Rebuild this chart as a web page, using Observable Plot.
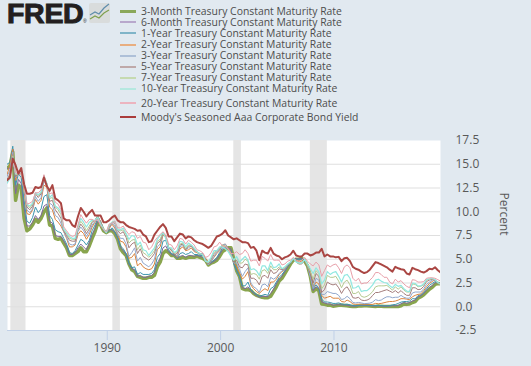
<!DOCTYPE html>
<html><head><meta charset="utf-8">
<script src="https://cdn.jsdelivr.net/npm/d3@7"></script>
<script src="https://cdn.jsdelivr.net/npm/@observablehq/plot@0.6"></script>
<style>
html,body{margin:0;padding:0;background:#e1e9f0;width:531px;height:366px;overflow:hidden}
#head{position:relative;height:130px;width:531px;font-family:"Open Sans",sans-serif}
#logo{position:absolute;left:7px;top:0;font:900 28.5px/26px "Liberation Sans",sans-serif;color:#231f20;-webkit-text-stroke:1px #231f20;letter-spacing:-.3px}
#reg{position:absolute;left:83px;top:18px;font:5px/6px "Liberation Sans",sans-serif;color:#231f20}
#icon{position:absolute;left:89px;top:3px}
#legend{position:absolute;left:120px;top:5.7px}
.row{display:flex;align-items:center;height:11.1px;font-size:10.4px;line-height:11px;color:#4d4d4d;white-space:nowrap}
.row span{display:block;height:11px;line-height:11px;overflow:visible}
.row.tall{margin-top:3.1px}
.row i{display:block;width:16px;margin-right:5px;flex:none}
svg.plot{display:block}
</style></head><body>
<div id="head">
<div id="logo">FRED</div><div id="reg">®</div>
<svg id="icon" width="22" height="21"><rect width="21" height="20" rx="2" fill="#d9dcdc"/><polyline points="1,12 6,9 10,11 15,5 20,1" fill="none" stroke="#5f8dab" stroke-width="1.2"/><polyline points="1,16 6,13 10,15 15,10 20,7" fill="none" stroke="#7fa04e" stroke-width="1.2"/></svg>
<div id="legend"></div>
</div>
<div id="chart"></div>
<script>
const names=["3-Month Treasury Constant Maturity Rate","6-Month Treasury Constant Maturity Rate","1-Year Treasury Constant Maturity Rate","2-Year Treasury Constant Maturity Rate","3-Year Treasury Constant Maturity Rate","5-Year Treasury Constant Maturity Rate","7-Year Treasury Constant Maturity Rate","10-Year Treasury Constant Maturity Rate","20-Year Treasury Constant Maturity Rate","Moody's Seasoned Aaa Corporate Bond Yield"];
const colors=["#89A54E","#80699B","#3D96AE","#DB843D","#92A8CD","#A47D7C","#B5CA92","#91E8E1","#E8A0AA","#AA4643"];
const widths=[3.5,1,1,1,1,1,1,1.2,1,2];
const legendColors=["#8aa85a","#b8a8cc","#7fb4c8","#e8ae80","#aec0d8","#bfa9a9","#c6dab0","#b5e8e0","#ecb4bf","#aa3c3c"];
const yTicks=[-2.5,0,2.5,5,7.5,10,12.5,15,17.5];
const gridValues=[0,2.5,5,7.5,10,12.5,15];
const xTickYears=[1990,2000,2010];
const recessionStart=["1981-07-01","1990-07-01","2001-03-01","2007-12-01"];
const recessionEnd=["1982-11-01","1991-03-01","2001-11-01","2009-06-01"];
const m3=[14.6,14.8,16.3,11.2,
12.8,12.5,9.3,8.0, 8.2,8.6,9.2,8.9, 9.3,10.0,10.4,8.6, 8.5,7.2,7.1,7.2, 6.7,6.2,5.4,5.4, 5.6,5.8,6.2,5.8, 5.8,6.4,7.2,7.9, 8.8,8.6,8.0,7.8, 8.0,8.0,7.7,7.1,
6.1,5.7,5.4,4.5, 3.9,3.7,3.2,3.1, 3.0,3.0,3.1,3.1, 3.3,4.2,4.7,5.6, 5.9,5.7,5.4,5.4, 5.1,5.1,5.2,5.1, 5.2,5.2,5.2,5.3, 5.2,5.1,4.9,4.4, 4.6,4.7,4.9,5.3, 5.8,6.0,6.2,6.2,
5.0,3.8,3.2,1.9, 1.8,1.8,1.7,1.4, 1.2,1.1,1.0,0.95, 0.95,1.1,1.6,2.1, 2.7,3.0,3.5,4.0, 4.5,4.9,5.0,5.0, 5.1,4.8,4.3,3.2, 1.6,1.9,1.7,0.3, 0.25,0.17,0.17,0.06, 0.1,0.15,0.15,0.13,
0.1,0.05,0.03,0.02, 0.08,0.09,0.1,0.1, 0.08,0.05,0.03,0.07, 0.04,0.03,0.03,0.02, 0.03,0.02,0.03,0.1, 0.3,0.25,0.3,0.45, 0.55,0.9,1.05,1.25, 1.55,1.85,2.05,2.35, 2.45,2.4];
const m6=[14.6,14.5,16.6,11.9,
13.4,13.0,10.4,8.5, 8.5,8.9,9.6,9.2, 9.6,10.6,10.8,9.0, 8.8,7.5,7.4,7.4, 6.9,6.4,5.5,5.5, 5.7,6.2,6.6,6.3, 6.0,6.7,7.6,8.2, 9.0,8.7,8.1,7.8, 8.1,8.1,7.8,7.2,
6.2,5.9,5.5,4.5, 4.0,3.9,3.2,3.3, 3.1,3.1,3.2,3.3, 3.6,4.6,5.1,6.2, 6.4,5.8,5.5,5.4, 5.1,5.3,5.4,5.2, 5.4,5.4,5.3,5.4, 5.3,5.2,4.9,4.5, 4.6,4.8,5.0,5.5, 6.0,6.2,6.2,6.1,
4.7,3.8,3.2,2.0, 1.9,2.1,1.7,1.4, 1.2,1.0,1.1,1.1, 1.05,1.4,1.85,2.4, 2.9,3.2,3.7,4.2, 4.6,5.0,5.05,5.05, 5.1,4.9,4.4,3.3, 1.7,2.1,1.9,0.5, 0.4,0.3,0.3,0.15, 0.2,0.22,0.2,0.18,
0.17,0.1,0.06,0.06, 0.12,0.14,0.14,0.14, 0.11,0.09,0.07,0.1, 0.07,0.06,0.05,0.07, 0.12,0.09,0.14,0.32, 0.45,0.36,0.45,0.6, 0.7,1.05,1.15,1.4, 1.75,2.05,2.2,2.55, 2.5,2.45];
const y1=[15.0,15.2,16.9,12.8,
14.0,13.6,11.2,9.0, 8.8,9.4,10.5,9.9, 10.3,11.6,11.8,9.6, 9.2,8.1,7.9,7.8, 7.2,6.6,5.7,5.6, 5.9,6.5,7.1,6.9, 6.5,7.0,8.0,8.6, 9.3,9.0,8.2,7.8, 8.0,8.3,7.9,7.3,
6.4,6.1,5.6,4.6, 4.1,4.2,3.4,3.6, 3.4,3.4,3.4,3.5, 3.9,5.2,5.6,6.9, 7.0,6.0,5.6,5.5, 5.1,5.6,5.7,5.5, 5.6,5.8,5.5,5.5, 5.4,5.4,5.0,4.5, 4.7,4.9,5.2,5.7, 6.2,6.2,6.1,5.9,
4.5,3.8,3.2,2.2, 2.2,2.6,1.8,1.5, 1.3,1.1,1.2,1.3, 1.2,1.9,2.1,2.6, 3.1,3.4,3.8,4.3, 4.6,5.1,5.0,5.0, 5.0,4.9,4.4,3.4, 1.9,2.3,2.0,0.8, 0.5,0.5,0.45,0.35, 0.35,0.4,0.3,0.25,
0.28,0.2,0.13,0.11, 0.15,0.18,0.18,0.17, 0.15,0.12,0.13,0.13, 0.12,0.1,0.11,0.12, 0.2,0.24,0.35,0.49, 0.55,0.55,0.6,0.85, 0.83,1.18,1.25,1.55, 1.9,2.25,2.45,2.65, 2.55,2.4];
const y2=[13.9,14.9,16.6,13.3,
14.3,14.2,12.2,9.8, 9.7,10.2,11.3,10.8, 11.2,12.8,12.6,10.5, 10.2,9.2,8.9,8.5, 7.9,7.2,6.3,6.3, 6.5,7.6,8.0,7.7, 7.1,7.6,8.4,8.9, 9.5,9.0,8.1,7.8, 8.2,8.7,8.3,7.6,
6.9,6.8,6.3,5.1, 5.2,5.6,4.3,4.6, 4.2,4.0,3.9,4.0, 4.5,6.0,6.3,7.5, 7.5,6.2,5.9,5.6, 5.2,6.1,6.3,5.9, 6.0,6.2,5.8,5.7, 5.5,5.6,5.1,4.5, 4.8,5.2,5.6,5.9, 6.5,6.6,6.2,5.7,
4.6,4.3,3.6,2.9, 3.2,3.7,2.3,1.9, 1.6,1.4,1.7,1.9, 1.7,2.6,2.6,2.9, 3.4,3.7,3.9,4.4, 4.6,5.1,4.9,4.7, 4.8,4.9,4.4,3.6, 2.0,2.6,2.4,1.2, 0.9,1.0,1.1,0.9, 0.9,0.9,0.55,0.5,
0.7,0.55,0.3,0.25, 0.27,0.28,0.25,0.26, 0.25,0.25,0.35,0.32, 0.35,0.42,0.5,0.55, 0.55,0.6,0.7,0.85, 0.85,0.8,0.75,1.05, 1.2,1.3,1.35,1.7, 2.1,2.45,2.65,2.85, 2.55,2.35];
const y3=[13.7,14.4,16.3,13.6,
14.1,14.2,12.6,10.2, 9.9,10.3,11.6,11.1, 11.5,13.2,12.9,10.9, 10.7,9.6,9.4,8.8, 7.9,7.3,6.6,6.5, 6.6,7.9,8.4,8.0, 7.4,7.9,8.6,9.0, 9.6,8.9,8.1,7.8, 8.3,8.8,8.5,7.7,
7.2,7.2,6.6,5.3, 5.7,6.2,4.8,5.2, 4.6,4.4,4.2,4.5, 5.0,6.3,6.6,7.7, 7.4,6.2,6.0,5.6, 5.3,6.3,6.5,6.0, 6.2,6.4,5.9,5.8, 5.5,5.6,5.0,4.4, 4.8,5.3,5.7,6.0, 6.5,6.6,6.1,5.6,
4.6,4.6,3.9,3.2, 3.7,4.1,2.5,2.1, 1.9,1.5,2.3,2.4, 2.1,3.1,2.9,3.1, 3.5,3.8,3.9,4.4, 4.6,5.1,4.8,4.6, 4.6,4.9,4.3,3.1, 1.9,3.0,2.8,1.3, 1.3,1.6,1.5,1.4, 1.4,1.2,0.75,0.85,
1.1,0.85,0.45,0.4, 0.45,0.4,0.33,0.35, 0.38,0.5,0.75,0.65, 0.7,0.9,1.05,1.05, 0.95,1.0,1.0,1.2, 1.0,0.9,0.9,1.45, 1.55,1.55,1.55,1.9, 2.35,2.6,2.8,2.85, 2.5,2.3];
const y5=[13.4,14.0,16.0,13.7,
14.0,14.0,12.9,10.5, 10.2,10.6,11.9,11.5, 11.9,13.6,13.0,11.1, 11.2,10.2,9.8,9.3, 8.0,7.5,7.0,6.9, 6.9,8.1,8.7,8.3, 7.7,8.2,8.9,9.1, 9.6,8.8,8.1,7.8, 8.4,8.9,8.8,8.0,
7.7,7.9,7.3,6.2, 6.6,6.8,5.6,6.1, 5.3,5.1,4.9,5.2, 5.6,6.7,6.9,7.8, 7.3,6.2,6.0,5.5, 5.6,6.5,6.6,6.0, 6.4,6.4,6.0,5.8, 5.6,5.5,4.8,4.5, 5.0,5.5,5.8,6.1, 6.4,6.4,6.0,5.5,
4.7,4.9,4.2,4.1, 4.5,4.4,3.0,3.0, 2.8,2.3,3.2,3.3, 3.0,3.9,3.5,3.6, 4.0,3.9,4.0,4.4, 4.7,5.1,4.7,4.5, 4.5,5.0,4.2,3.5, 2.5,3.5,3.2,1.5, 1.8,2.6,2.4,2.3, 2.4,2.0,1.4,1.9,
2.1,1.6,0.95,0.9, 1.0,0.7,0.65,0.7, 0.85,1.2,1.5,1.5, 1.6,1.7,1.8,1.65, 1.5,1.7,1.45,1.7, 1.4,1.2,1.2,2.0, 2.0,1.8,1.85,2.15, 2.65,2.8,2.9,2.8, 2.45,2.3];
const y7=[13.2,13.9,15.9,13.9,
14.0,14.0,13.0,10.7, 10.4,10.8,12.0,11.7, 12.0,13.8,13.0,11.4, 11.5,10.5,10.2,9.7, 8.1,7.7,7.2,7.1, 7.1,8.3,9.0,8.6, 8.0,8.5,9.0,9.1, 9.5,8.7,8.2,7.8, 8.5,8.9,9.0,8.1,
8.0,8.1,7.6,6.7, 7.0,7.1,6.0,6.5, 5.7,5.5,5.2,5.5, 5.9,6.9,7.1,7.8, 7.3,6.3,6.1,5.6, 5.8,6.6,6.7,6.1, 6.5,6.5,6.1,5.8, 5.6,5.5,4.8,4.6, 5.1,5.7,5.9,6.2, 6.5,6.4,6.0,5.5,
4.9,5.2,4.6,4.6, 5.0,4.8,3.4,3.5, 3.4,2.9,3.8,3.9, 3.5,4.3,3.9,3.9, 4.2,4.0,4.1,4.4, 4.7,5.1,4.7,4.5, 4.6,5.0,4.3,3.7, 2.9,3.8,3.5,1.9, 2.3,3.3,3.1,3.1, 3.2,2.7,2.0,2.6,
2.8,2.3,1.4,1.4, 1.6,1.1,1.0,1.1, 1.3,1.6,2.1,2.2, 2.2,2.2,2.25,2.0, 1.75,2.1,1.85,2.1, 1.75,1.55,1.55,2.4, 2.35,2.1,2.15,2.3, 2.8,2.9,2.95,2.85, 2.45,2.35];
const y10=[13.0,13.5,15.7,14.0,
14.0,14.2,13.0,10.8, 10.6,10.9,12.0,11.8, 12.1,13.8,13.0,11.5, 11.8,10.6,10.4,10.0, 8.2,7.8,7.4,7.2, 7.2,8.4,9.3,8.9, 8.4,8.9,9.1,9.1, 9.4,8.7,8.2,7.8, 8.6,8.9,9.0,8.1,
8.1,8.3,7.7,7.1, 7.5,7.4,6.5,6.8, 6.0,5.9,5.4,5.8, 6.2,7.1,7.5,7.8, 7.2,6.2,6.2,5.7, 5.9,6.9,6.8,6.3, 6.7,6.5,6.2,5.8, 5.6,5.5,4.8,4.7, 5.2,5.9,5.9,6.3, 6.3,6.1,5.8,5.3,
4.9,5.3,4.7,5.0, 5.3,4.9,3.9,4.0, 3.8,3.3,4.3,4.3, 3.8,4.7,4.1,4.2, 4.5,4.0,4.2,4.5, 4.7,5.1,4.7,4.6, 4.6,5.0,4.5,4.0, 3.5,4.1,3.7,2.4, 2.8,3.7,3.4,3.6, 3.7,3.2,2.6,3.3,
3.4,3.0,1.95,2.0, 2.2,1.6,1.7,1.7, 1.95,2.3,2.8,2.9, 2.7,2.55,2.5,2.2, 2.0,2.35,2.15,2.25, 1.9,1.65,1.6,2.5, 2.45,2.2,2.2,2.4, 2.85,2.95,3.0,2.85, 2.55,2.4];
const y20=[13.3,13.5,15.6,14.1,
14.0,14.1,12.8,10.8, 10.9,11.1,12.0,12.0, 12.3,13.9,12.7,11.9, 12.0,11.0,10.8,10.2, 8.4,8.0,7.6,7.4, 7.5,8.6,9.7,9.2, 8.8,9.2,9.2,9.0, 9.2,8.5,8.2,7.9, 8.7,8.8,9.0,8.3,
8.3,8.5,8.0,7.6, 7.9,7.8,7.2,7.4, 6.8,6.7,6.0,6.3, 6.9,7.3,7.6,7.9, 7.6,6.6,6.5,6.0, 6.4,7.2,7.1,6.6, 7.0,6.8,6.5,6.0, 5.9,5.7,5.2,5.3, 5.7,6.3,6.4,6.8, 6.4,6.3,6.1,5.6,
5.6,5.8,5.5,5.6, 6.0,5.6,4.8,4.9, 4.9,4.3,5.3,5.1, 4.8,5.5,4.9,4.9, 4.9,4.4,4.5,4.8, 4.9,5.2,4.9,4.8, 4.9,5.2,4.8,4.5, 4.3,4.7,4.4,3.2, 3.8,4.4,4.2,4.4, 4.5,4.1,3.5,4.2,
4.4,4.1,3.0,2.7, 3.0,2.4,2.5,2.5, 2.8,3.1,3.6,3.6, 3.4,3.1,3.1,2.6, 2.4,2.9,2.6,2.75, 2.4,2.15,2.0,2.85, 2.8,2.6,2.6,2.65, 3.0,3.05,3.05,3.0, 2.85,2.7];
const aaa=[13.3,13.6,15.6,14.9,
14.0,14.6,12.9,11.9, 11.9,12.0,12.6,12.5, 12.6,13.6,12.7,12.2, 12.8,11.4,11.2,10.9, 9.3,9.1,9.1,8.6, 8.4,9.5,10.4,10.0, 9.5,9.9,10.2,9.6, 9.6,9.6,8.9,8.9, 9.1,9.4,9.6,9.1,
8.9,8.9,8.6,8.4, 8.3,8.2,8.0,8.05, 7.6,7.4,6.8,6.9, 7.6,8.0,8.4,8.7, 8.3,7.4,7.4,6.9, 7.3,7.7,7.6,7.2, 7.4,7.3,7.0,6.8, 6.7,6.6,6.4,6.2, 6.4,6.9,7.4,7.5, 7.7,8.05,7.5,7.3,
7.1,7.2,7.0,6.8, 6.8,6.7,6.2,6.3, 5.9,4.9,5.9,5.7, 5.6,6.2,5.6,5.4, 5.3,5.0,5.2,5.3, 5.5,5.9,5.4,5.3, 5.3,5.6,5.6,5.4, 5.5,5.7,5.7,6.1, 5.3,5.5,5.3,5.3, 5.2,5.25,4.8,5.1,
5.15,4.8,4.2,4.0, 3.9,3.7,3.55,3.65, 3.9,4.3,4.7,4.6, 4.45,4.3,4.15,3.9, 3.7,4.2,4.05,3.95, 3.9,3.5,3.4,4.1, 3.95,3.85,3.7,3.6, 3.75,4.0,3.95,4.15, 3.85,3.6];
const series=[m3,m6,y1,y2,y3,y5,y7,y10,y20,aaa];
const dates=d3.utcMonth.range(new Date(Date.UTC(1981,2,1)),new Date(Date.UTC(2019,6,1)),3);

const legend=document.getElementById("legend");
names.forEach((n,i)=>{
  const r=document.createElement("div");
  r.className="row"+(i>=8?" tall":"");
  const k=document.createElement("i");
  k.style.background=legendColors[i];
  k.style.height=(i==0?3:2)+"px";
  r.appendChild(k);
  const t=document.createElement("span");
  t.textContent=n;
  r.appendChild(t);
  legend.appendChild(r);
});

const chart=Plot.plot({
  width:531,height:236,marginTop:10,marginBottom:36,marginLeft:7,marginRight:91,
  style:{background:"transparent",fontFamily:"'Open Sans',sans-serif",fontSize:"12px",color:"#595959"},
  x:{type:"utc",domain:[new Date(Date.UTC(1981,2,15)),new Date(Date.UTC(2019,4,26))]},
  y:{domain:[-2.5,17.5]},
  marks:[
    Plot.frame({fill:"white",stroke:null}),
    Plot.rectX(recessionStart,{x1:d=>new Date(d),x2:(d,i)=>new Date(recessionEnd[i]),fill:"#e5e5e5"}),
    Plot.ruleY(gridValues,{stroke:"#dfdfdf",strokeWidth:1}),
    ...series.map((s,i)=>Plot.line(s,{x:(d,j)=>dates[j],y:d=>d,stroke:colors[i],strokeWidth:widths[i],clip:true})),
    Plot.ruleY([-2.5],{stroke:"#c0d0e7"}),
    Plot.axisX({ticks:xTickYears.map(y=>new Date(Date.UTC(y,0,1))),tickFormat:d=>String(d.getUTCFullYear()),tickSize:10,tickPadding:3,stroke:"#c0d0e7",label:null,fill:"#595959"}),
    Plot.axisY({anchor:"right",ticks:yTicks,tickFormat:d=>d.toFixed(1),tickSize:0,tickPadding:15,label:null,fill:"#595959"}),
    Plot.text(["Percent"],{frameAnchor:"right",rotate:90,dx:63,fill:"#595959",fontSize:12})
  ]
});
document.getElementById("chart").appendChild(chart);
</script>
</body></html>
